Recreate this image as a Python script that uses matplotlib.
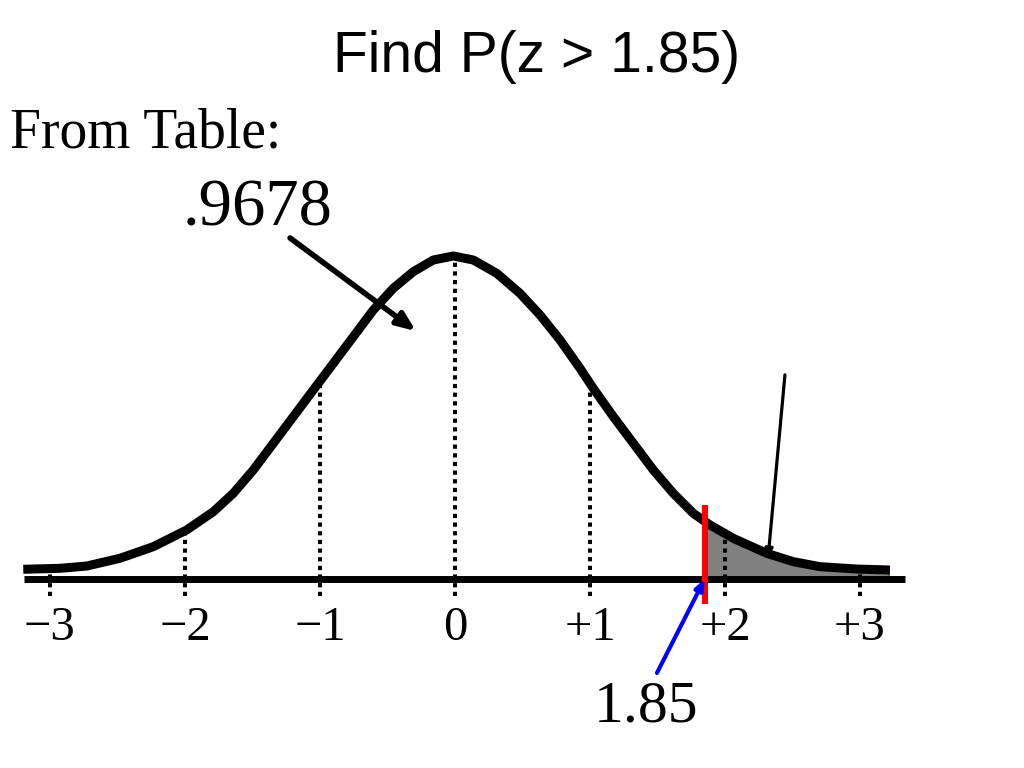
import numpy as np
import matplotlib
matplotlib.use("Agg")
import matplotlib.pyplot as plt

# ---- data ----
curve_z = [-3.198, -2.926, -2.728, -2.481, -2.235, -1.988, -1.790, -1.642, -1.494, -1.346,
           -1.198, -1.050, -0.901, -0.753, -0.605, -0.457, -0.309, -0.161, -0.013,
           0.136, 0.309, 0.481, 0.630, 0.778, 0.926, 1.024, 1.173, 1.321, 1.469,
           1.617, 1.765, 1.889, 2.062, 2.309, 2.506, 2.704, 2.976, 3.222]
curve_h = [0.0120, 0.0132, 0.0160, 0.0256, 0.0399, 0.0605, 0.0831, 0.1058, 0.1346, 0.1675,
           0.2004, 0.2333, 0.2663, 0.2992, 0.3321, 0.3589, 0.3794, 0.3938, 0.3988,
           0.3938, 0.3774, 0.3527, 0.3259, 0.2951, 0.2601, 0.2354, 0.2004, 0.1675, 0.1346,
           0.1058, 0.0811, 0.0667, 0.0502, 0.0317, 0.0214, 0.0152, 0.0123, 0.0111]
tick_values = [-3, -2, -1, 0, 1, 2, 3]
tick_labels = ["\u22123", "\u22122", "\u22121", "0", "+1", "+2", "+3"]
z_cut = 1.85
tail_end = 3.21
table_value = ".9678"
axis_range = [-3.19, 3.33]

K = 0.4 / 324.0
fig = plt.figure(figsize=(10.24, 7.68), dpi=100)
ax = fig.add_axes([0, 0, 1, 1])
ax.set_xlim(-455 / 135, (1024 - 455) / 135)
ax.set_ylim((579 - 768) * K, 579 * K)
ax.axis("off")

cz = np.array(curve_z)
ch = np.array(curve_h)

# shaded tail
mask = (cz > z_cut) & (cz < tail_end)
fz = np.concatenate([[z_cut], cz[mask], [tail_end]])
fh = np.concatenate([[np.interp(z_cut, cz, ch)], ch[mask], [np.interp(tail_end, cz, ch)]])
ax.fill_between(fz, 0, fh, facecolor="#808080", edgecolor="#2f7a2f", linewidth=1.5, zorder=2)

# dotted verticals
for t in tick_values:
    top = np.interp(t, cz, ch)
    ax.plot([t, t], [-0.021, top], color="black", lw=2.9,
            linestyle=(0, (1.05, 1.1)), dash_capstyle="butt", zorder=3)

# baseline
ax.plot(axis_range, [0, 0], color="black", lw=5, solid_capstyle="butt", zorder=4)

# curve
ax.plot(cz, ch, color="black", lw=6.5, solid_joinstyle="round", solid_capstyle="butt", zorder=5)

# red cut line
ax.plot([z_cut, z_cut], [-0.031, 0.0914], color="#ff0000", lw=4.3,
        solid_capstyle="butt", zorder=6)

# tick labels
for t, lab in zip(tick_values, tick_labels):
    ax.text(t, -0.0753, lab, ha="center", va="baseline", fontsize=35,
            family="Liberation Serif", zorder=7)

# arrows
ax.annotate("", xy=(-0.289, 0.306), xytext=(-1.222, 0.421),
            arrowprops=dict(arrowstyle="-|>,head_length=1.1,head_width=0.45",
                            color="black", lw=4, shrinkA=0, shrinkB=0), zorder=8)
ax.annotate("", xy=(2.319, 0.026), xytext=(2.444, 0.252),
            arrowprops=dict(arrowstyle="-|>,head_length=0.5,head_width=0.22",
                            color="black", lw=2.3, shrinkA=0, shrinkB=0), zorder=8)
ax.annotate("", xy=(z_cut, 0.0), xytext=(1.496, -0.116),
            arrowprops=dict(arrowstyle="-|>,head_length=0.6,head_width=0.25",
                            color="#0000ff", lw=3, shrinkA=0, shrinkB=0), zorder=8)

# texts
fig.text(537 / 1024, 1 - 72 / 768, "Find P(z > 1.85)", ha="center", va="baseline",
         fontsize=41, family="Liberation Sans")
fig.text(10 / 1024, 1 - 148 / 768, "From Table:", ha="left", va="baseline",
         fontsize=40, family="Liberation Serif")
fig.text(183 / 1024, 1 - 226 / 768, table_value, ha="left", va="baseline",
         fontsize=48, family="Liberation Serif")
fig.text(594 / 1024, 1 - 722 / 768, f"{z_cut:.2f}", ha="left", va="baseline",
         fontsize=43, family="Liberation Serif")

fig.savefig("out.png", dpi=100)
